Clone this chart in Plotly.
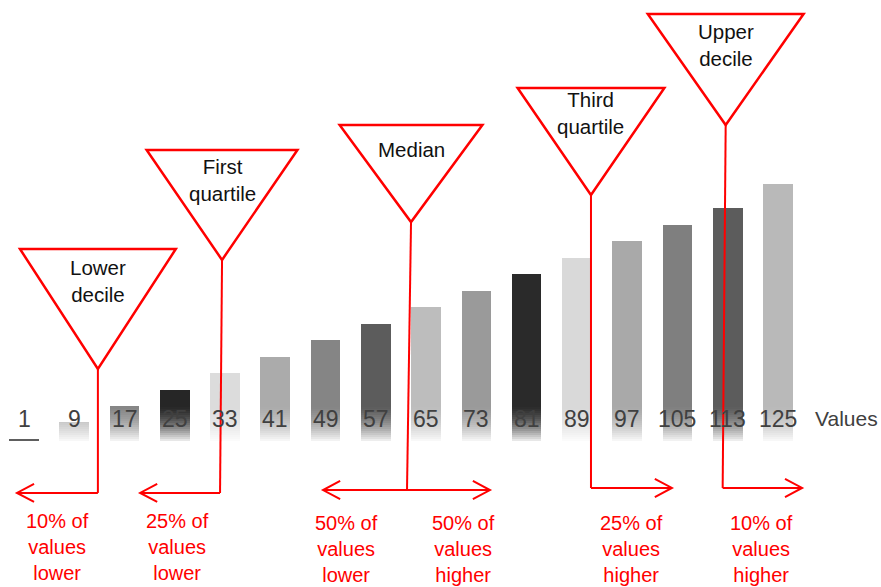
import plotly.graph_objects as go

# ---------------- data ----------------
categories = [1, 9, 17, 25, 33, 41, 49, 57, 65, 73, 81, 89, 97, 105, 113, 125]
values = [1, 9, 17, 25, 33, 41, 49, 57, 65, 73, 81, 89, 97, 105, 113, 125]
bar_colors = ["#5e5e5e", "#b6b6b6", "#868686", "#262626", "#dcdcdc", "#ababab",
              "#858585", "#5c5c5c", "#bdbdbd", "#9a9a9a", "#2a2a2a", "#d9d9d9",
              "#a9a9a9", "#7f7f7f", "#5c5c5c", "#b9b9b9"]
axis_title = "Values"

# quantile markers (positions in axis units)
marker_names = ["Lower<br>decile", "First<br>quartile", "Median", "Third<br>quartile", "Upper<br>decile"]
marker_x_apex = [1.47, 3.94, 7.70, 11.28, 13.96]
marker_x_foot = [1.47, 3.90, 7.62, 11.28, 13.90]
marker_apex_y = [35.0, 87.9, 106.3, 119.4, 153.4]
marker_top_y = [93.2, 141.3, 153.4, 171.4, 207.3]
marker_half_w = [1.55, 1.50, 1.42, 1.46, 1.55]
marker_label_y = [77.7, 126.7, 141.7, 159.2, 192.0]
marker_foot_y = [-25.2, -25.2, -23.8, -22.8, -22.8]
arrow_left_end = [-0.14, 2.31, 5.95, None, None]
arrow_right_end = [None, None, 9.27, 12.89, 15.48]

pct_text = ["10% of<br>values<br>lower", "25% of<br>values<br>lower",
            "50% of<br>values<br>lower", "50% of<br>values<br>higher",
            "25% of<br>values<br>higher", "10% of<br>values<br>higher"]
pct_x = [0.66, 3.06, 6.41, 8.75, 12.09, 14.68]
pct_y = [-51.5, -51.5, -52.3, -52.3, -52.3, -52.3]

# ---------------- figure ----------------
RED = "#ff0000"
FONT = "Liberation Sans, Arial, sans-serif"
x_pos = list(range(len(categories)))

fig = go.Figure()
fig.add_trace(go.Bar(x=x_pos, y=values, width=0.59,
                     marker=dict(color=bar_colors, line=dict(width=0)),
                     hoverinfo="skip", showlegend=False))

shapes = []
# white fade at the bottom of the bars (reflection-like gradient)
n_bands = 18
fade_top = 17.5
for k in range(n_bands):
    y0 = fade_top * k / n_bands
    y1 = fade_top * (k + 1) / n_bands
    t = 1 - (k + 0.5) / n_bands
    alpha = 0.93 * t ** 1.6
    shapes.append(dict(type="rect", xref="x", yref="y", x0=0.5, x1=15.5, y0=y0, y1=y1,
                       fillcolor=f"rgba(255,255,255,{alpha:.3f})", line=dict(width=0),
                       layer="above"))

annotations = []
for i, (xa, xf, ay, ty, hw, ly, fy, le, re, name) in enumerate(zip(
        marker_x_apex, marker_x_foot, marker_apex_y, marker_top_y, marker_half_w,
        marker_label_y, marker_foot_y, arrow_left_end, arrow_right_end, marker_names)):
    # triangle
    shapes.append(dict(type="path", xref="x", yref="y",
                       path=f"M {xa-hw},{ty} L {xa+hw},{ty} L {xa},{ay} Z",
                       line=dict(color=RED, width=2.5), layer="above"))
    # stem
    shapes.append(dict(type="line", xref="x", yref="y", x0=xa, y0=ay, x1=xf, y1=fy,
                       line=dict(color=RED, width=2), layer="above"))
    dx, dy = 0.34, 4.4
    if le is not None:
        shapes.append(dict(type="line", xref="x", yref="y", x0=xf, y0=fy, x1=le, y1=fy,
                           line=dict(color=RED, width=2), layer="above"))
        shapes.append(dict(type="path", xref="x", yref="y",
                           path=f"M {le+dx},{fy+dy} L {le},{fy} L {le+dx},{fy-dy}",
                           line=dict(color=RED, width=2), layer="above"))
    if re is not None:
        shapes.append(dict(type="line", xref="x", yref="y", x0=xf, y0=fy, x1=re, y1=fy,
                           line=dict(color=RED, width=2), layer="above"))
        shapes.append(dict(type="path", xref="x", yref="y",
                           path=f"M {re-dx},{fy+dy} L {re},{fy} L {re-dx},{fy-dy}",
                           line=dict(color=RED, width=2), layer="above"))
    annotations.append(dict(x=xa, y=ly, xref="x", yref="y", text=name, showarrow=False,
                            font=dict(family=FONT, size=20.5, color="#111111"),
                            align="center"))

# category labels
for xi, c in zip(x_pos, categories):
    annotations.append(dict(x=xi, y=10.7, xref="x", yref="y", text=str(c), showarrow=False,
                            font=dict(family=FONT, size=23, color="#404040")))
annotations.append(dict(x=16.37, y=10.7, xref="x", yref="y", text=axis_title, showarrow=False,
                        font=dict(family=FONT, size=21, color="#404040")))

# percentage texts
for t, px, py in zip(pct_text, pct_x, pct_y):
    annotations.append(dict(x=px, y=py, xref="x", yref="y", text=t, showarrow=False,
                            font=dict(family=FONT, size=20, color=RED), align="center"))

fig.update_layout(
    width=881, height=587,
    margin=dict(l=0, r=0, t=0, b=0),
    paper_bgcolor="white", plot_bgcolor="white",
    xaxis=dict(range=[-0.4775, 17.05], visible=False, fixedrange=True),
    yaxis=dict(range=[-70.87, 214.08], visible=False, fixedrange=True),
    shapes=shapes, annotations=annotations,
    bargap=0, showlegend=False,
)

fig.write_html("out.html")
